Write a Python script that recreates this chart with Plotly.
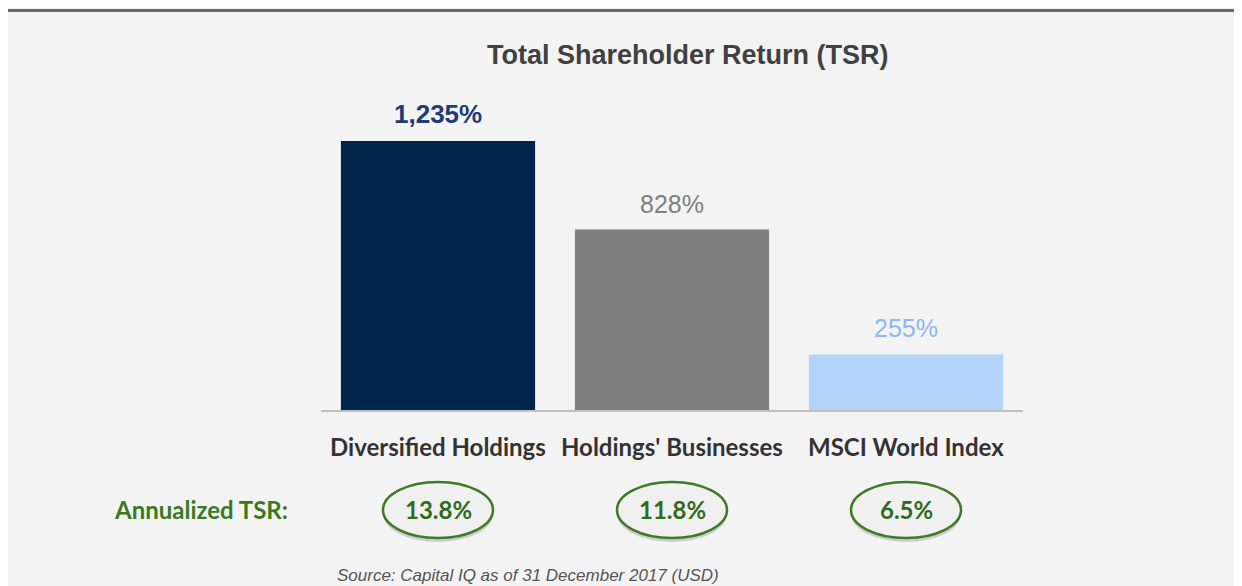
import plotly.graph_objects as go

categories = ["Diversified Holdings", "Holdings' Businesses", "MSCI World Index"]
tsr_values = [1235, 828, 255]
annualized_tsr = [13.8, 11.8, 6.5]
bar_colors = ["#01244a", "#7f7f7f", "#b3d3fa"]
label_colors = ["#1f3c74", "#7f7f7f", "#8cb8f5"]
label_weights = ["bold", "normal", "normal"]
label_sizes = [26, 25, 25]

W, H = 1242, 586
OFF = 8  # page offset of the figure (browser body margin)
L, R, T, B = 321 - OFF, 1023 - OFF, 105 - OFF, 410 - OFF  # plot area in figure pixels


def px_x(p):
    """page pixel x -> paper coordinate"""
    return (p - OFF - L) / (R - L)


def px_y(p):
    """page pixel y -> paper coordinate"""
    return (B - (p - OFF)) / (B - T)


fig = go.Figure()
fig.add_trace(go.Bar(
    x=list(range(len(categories))),
    y=tsr_values,
    marker=dict(color=bar_colors, line=dict(width=0)),
    width=0.83,
    hoverinfo="skip",
))

annotations = []
# value labels
for i, v in enumerate(tsr_values):
    annotations.append(dict(
        x=i, y=v, xref="x", yref="y", text=f"{v:,}%", showarrow=False,
        yanchor="bottom", yshift=10,
        font=dict(family="Liberation Sans, Arial", size=label_sizes[i], color=label_colors[i],
                  weight=label_weights[i]),
    ))

# title
annotations.append(dict(
    x=px_x(688), y=px_y(55), xref="paper", yref="paper", yanchor="middle",
    text="Total Shareholder Return (TSR)", showarrow=False,
    font=dict(family="Liberation Sans, Arial", size=27, color="#404040", weight="bold"),
))

# category labels
for i, c in enumerate(categories):
    annotations.append(dict(
        x=i, y=px_y(446), xref="x", yref="paper", yanchor="middle", text=c, showarrow=False,
        font=dict(family="Lato", size=24, color="#333333", weight="bold"),
    ))

# Annualized TSR label
annotations.append(dict(
    x=px_x(112), y=px_y(509), xref="paper", yref="paper", xanchor="left", yanchor="middle",
    text="Annualized TSR:", showarrow=False,
    font=dict(family="Lato", size=24, color="#3a7a1e", weight="bold"),
))

shapes = []
# top border line
shapes.append(dict(type="line", xref="paper", yref="paper", layer="below",
                   x0=px_x(OFF), x1=px_x(W + OFF), y0=px_y(10.5), y1=px_y(10.5),
                   line=dict(color="#6a6a6a", width=3)))

# ellipses
for i, a in enumerate(annualized_tsr):
    shapes.append(dict(type="circle", xref="x", yref="paper",
                       x0=i - 0.235, x1=i + 0.235, y0=px_y(542), y1=px_y(486),
                       fillcolor="rgba(0,0,0,0.16)", line=dict(width=0)))
    shapes.append(dict(type="circle", xref="x", yref="paper",
                       x0=i - 0.235, x1=i + 0.235, y0=px_y(538), y1=px_y(482),
                       fillcolor="#f0f0f0", line=dict(color="#3f7a24", width=2.5)))
    annotations.append(dict(
        x=i, y=px_y(509), xref="x", yref="paper", yanchor="middle", text=f"{a}%", showarrow=False,
        font=dict(family="Lato", size=24, color="#2f6b1c", weight="bold"),
    ))

# source
annotations.append(dict(
    x=px_x(335), y=px_y(575), xref="paper", yref="paper", xanchor="left", yanchor="middle",
    text="<i>Source: Capital IQ as of 31 December 2017 (USD)</i>", showarrow=False,
    font=dict(family="Liberation Sans, Arial", size=17, color="#555555"),
))

fig.update_layout(
    width=W, height=H,
    margin=dict(l=L, r=W - R, t=T, b=H - B, pad=0),
    paper_bgcolor="#f3f3f3", plot_bgcolor="#f3f3f3",
    showlegend=False,
    xaxis=dict(range=[-0.5, 2.5], showgrid=False, zeroline=False, showticklabels=False,
               showline=True, linecolor="#c0c0c0", linewidth=1.5, ticks="", fixedrange=True),
    yaxis=dict(range=[0, 1400], visible=False, fixedrange=True),
    annotations=annotations,
    shapes=shapes,
)

fig.write_html("out.html")
